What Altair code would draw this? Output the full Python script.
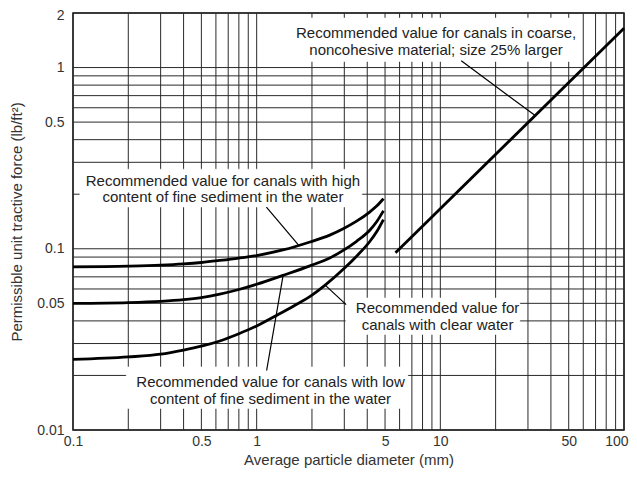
import altair as alt
import pandas as pd

# ---- data ----
high_x = [0.1, 0.2, 0.3, 0.4, 0.5, 0.63, 0.8, 1, 1.39, 1.95, 2.5, 2.96, 3.5, 4.14, 4.5, 4.9]
high_y = [0.0795, 0.0802, 0.0812, 0.0825, 0.084, 0.0862, 0.0888, 0.0918, 0.0985, 0.109,
          0.119, 0.129, 0.142, 0.160, 0.172, 0.189]
low_x = [0.1, 0.2, 0.3, 0.4, 0.5, 0.63, 0.8, 1, 1.39, 1.95, 2.5, 2.96, 3.5, 4.14, 4.5, 4.9]
low_y = [0.050, 0.0505, 0.0513, 0.0524, 0.0538, 0.0562, 0.0596, 0.0637, 0.0713, 0.0805,
         0.089, 0.098, 0.110, 0.127, 0.141, 0.162]
clear_x = [0.1, 0.2, 0.3, 0.4, 0.5, 0.63, 0.8, 1, 1.29, 1.6, 2, 2.36, 3, 3.5, 4.14, 4.5, 4.9]
clear_y = [0.0245, 0.0253, 0.0262, 0.0276, 0.029, 0.031, 0.034, 0.0375, 0.043, 0.0485,
           0.0555, 0.063, 0.078, 0.091, 0.110, 0.124, 0.145]
coarse_x = [5.7, 100]
coarse_y = [0.095, 1.65]

x_grid = [0.1, 0.2, 0.3, 0.4, 0.5, 0.6, 0.7, 0.8, 0.9,
          1, 2, 3, 4, 5, 6, 7, 8, 9,
          10, 20, 30, 40, 50, 60, 70, 80, 90, 100]
x_labels = [0.1, 0.5, 1, 5, 10, 50, 100]
y_grid = [0.01, 0.02, 0.03, 0.04, 0.05, 0.06, 0.07, 0.08, 0.09,
          0.1, 0.2, 0.3, 0.4, 0.5, 0.6, 0.7, 0.8, 0.9, 1, 2]
y_labels = [0.01, 0.05, 0.1, 0.5, 1, 2]

# annotations (data coordinates; text y = first line)
note_text = [
    "Recommended value for canals with high\ncontent of fine sediment in the water",
    "Recommended value for canals in coarse,\nnoncohesive material; size 25% larger",
    "Recommended value for\ncanals with clear water",
    "Recommended value for canals with low\ncontent of fine sediment in the water",
]
note_x = [0.655, 9.48, 9.66, 1.19]
note_y = [0.238, 1.545, 0.0469, 0.0184]
box_x1 = [0.109, 1.56, 3.06, 0.195]
box_x2 = [3.74, 54, 27.1, 6.66]
box_y1 = [0.275, 1.876, 0.0535, 0.0223]
box_y2 = [0.170, 1.08, 0.0337, 0.01315]
lead_x1 = [1.13, 13.0, 3.07, 1.133]
lead_y1 = [0.17, 1.09, 0.0492, 0.0213]
lead_x2 = [1.7, 32.7, 2.36, 1.39]
lead_y2 = [0.104, 0.545, 0.063, 0.0705]

rows = []
for name, xs, ys in [("high", high_x, high_y), ("low", low_x, low_y),
                     ("clear", clear_x, clear_y), ("coarse", coarse_x, coarse_y)]:
    for xv, yv in zip(xs, ys):
        rows.append({"series": name, "x": xv, "y": yv})
curves = pd.DataFrame(rows)

xgrid_df = pd.DataFrame({"gx": x_grid})
ygrid_df = pd.DataFrame({"gy": y_grid})
boxes_df = pd.DataFrame({"bx1": box_x1, "bx2": box_x2, "by1": box_y1, "by2": box_y2})
text_df = pd.DataFrame({"text": note_text, "tx": note_x, "ty": note_y})
lead_df = pd.DataFrame({"lx1": lead_x1, "ly1": lead_y1, "lx2": lead_x2, "ly2": lead_y2})

FONT = "Liberation Sans"
GRID = "#2a2a2a"

xscale = alt.Scale(type="log", domain=[0.1, 100], nice=False)
yscale = alt.Scale(type="log", domain=[0.01, 2], nice=False)

xaxis = alt.Axis(values=x_labels, format="~g",
                 title="Average particle diameter (mm)", ticks=False, domain=False,
                 grid=False, labelFlush=False, labelOverlap=False, labelPadding=4,
                 labelAlign=alt.expr("datum.value == 100 ? 'right' : 'center'"),
                 labelOffset=alt.expr("datum.value == 100 ? 4 : 0"),
                 labelFontSize=14, labelColor="#333", labelFont=FONT,
                 titleFontSize=15, titleColor="#333", titleFont=FONT,
                 titleFontWeight="normal", titlePadding=4)
yaxis = alt.Axis(values=y_labels, format="~g",
                 title="Permissible unit tractive force (lb/ft²)", ticks=False, domain=False,
                 grid=False, labelFlush=False, labelOverlap=False, labelPadding=9,
                 labelOffset=alt.expr("datum.value == 2 ? 2 : 0"),
                 labelFontSize=14, labelColor="#333", labelFont=FONT,
                 titleFontSize=15, titleColor="#333", titleFont=FONT,
                 titleFontWeight="normal", titlePadding=12)

vgrid = alt.Chart(xgrid_df).mark_rule(color=GRID, strokeWidth=1).encode(
    x=alt.X("gx:Q", scale=xscale, axis=xaxis),
)
hgrid = alt.Chart(ygrid_df).mark_rule(color=GRID, strokeWidth=1).encode(
    y=alt.Y("gy:Q", scale=yscale, axis=yaxis),
)

boxes = alt.Chart(boxes_df).mark_rect(fill="white", stroke="white", strokeWidth=0.5).encode(
    x=alt.X("bx1:Q", scale=xscale), x2="bx2:Q",
    y=alt.Y("by1:Q", scale=yscale), y2="by2:Q",
)

curve_layer = alt.Chart(curves).mark_line(color="black", strokeWidth=2.8,
                                          interpolate="monotone").encode(
    x=alt.X("x:Q", scale=xscale),
    y=alt.Y("y:Q", scale=yscale),
    detail="series:N",
    order="x:Q",
)

leaders = alt.Chart(lead_df).mark_rule(color="black", strokeWidth=1.2).encode(
    x=alt.X("lx1:Q", scale=xscale), x2="lx2:Q",
    y=alt.Y("ly1:Q", scale=yscale), y2="ly2:Q",
)

texts = alt.Chart(text_df).mark_text(font=FONT, fontSize=15, color="#222",
                                     lineBreak="\n", lineHeight=16.5,
                                     align="center", baseline="middle").encode(
    x=alt.X("tx:Q", scale=xscale), y=alt.Y("ty:Q", scale=yscale), text="text:N",
)

chart = alt.layer(vgrid, hgrid, boxes, texts, curve_layer, leaders).properties(
    width=551, height=417,
    autosize=alt.AutoSizeParams(type="none"),
    padding={"left": 65, "top": 5, "right": 5, "bottom": 39},
    background="white",
).configure_view(stroke="#111", strokeWidth=1.5)

chart.save("out.html", embed_options={"renderer": "svg", "actions": False})
